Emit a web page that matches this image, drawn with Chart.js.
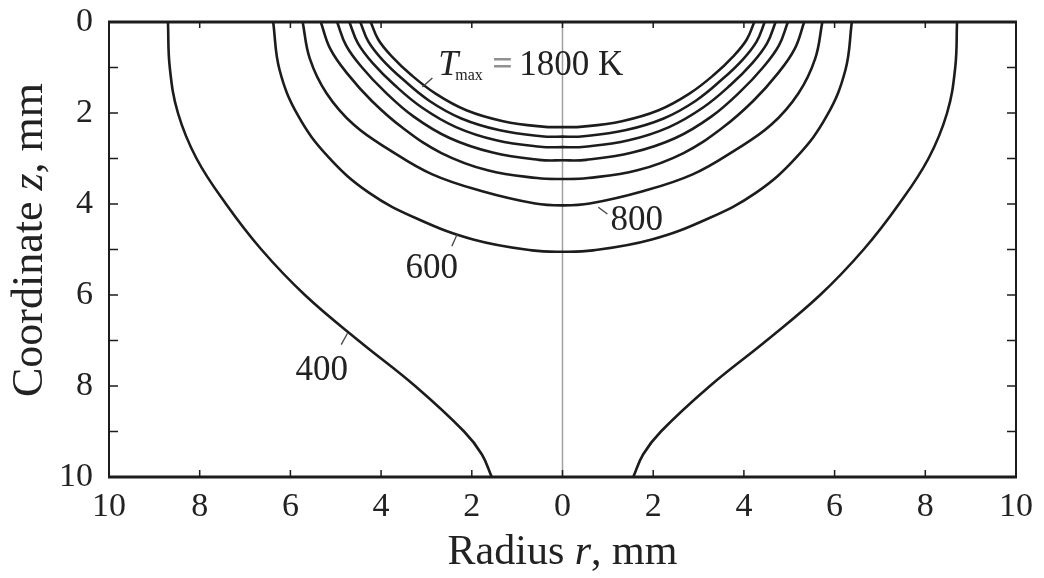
<!DOCTYPE html>
<html>
<head>
<meta charset="utf-8">
<script src="https://cdn.jsdelivr.net/npm/chart.js@4.4.1/dist/chart.umd.min.js"></script>
<style>
    html, body { margin: 0; padding: 0; background: #ffffff; }
    #wrap { width: 1044px; height: 578px; position: relative; }
</style>
</head>
<body>
<div id="wrap"><canvas id="chartIsotherms" width="1044" height="578"></canvas></div>
<script>
// isotherm levels, K
var levels = [400, 600, 800, 1000, 1200, 1400, 1600, 1800];

// axis ticks (mm)
var rTicks = [-10, -8, -6, -4, -2, 0, 2, 4, 6, 8, 10];
var zTicks = [0, 2, 4, 6, 8, 10];

// right half of each isotherm: radius r and depth z (mm)
var r400 = [8.70, 8.66, 8.48, 8.07, 7.42, 6.64, 5.68, 4.50, 3.25, 2.17, 1.78, 1.56];
var z400 = [0, 1, 2, 3, 4, 5, 6, 7, 8, 9, 9.5, 10];

var r600 = [6.38, 6.24, 5.83, 5.16, 4.27, 3.19, 1.97, 0.67, 0];
var z600 = [0, 1.05, 2.06, 2.97, 3.75, 4.33, 4.78, 5.02, 5.05];

var r800 = [5.73, 5.57, 5.20, 4.60, 3.80, 2.87, 1.77, 0.60, 0];
var z800 = [0, 0.81, 1.57, 2.26, 2.82, 3.35, 3.72, 3.99, 4.03];

var r1000 = [5.33, 5.12, 4.74, 4.21, 3.52, 2.67, 1.65, 0.56, 0];
var z1000 = [0, 0.59, 1.14, 1.73, 2.33, 2.88, 3.26, 3.43, 3.45];

var r1200 = [4.97, 4.77, 4.42, 3.93, 3.28, 2.49, 1.54, 0.52, 0];
var z1200 = [0, 0.52, 1.00, 1.52, 2.08, 2.55, 2.87, 3.03, 3.04];

var r1400 = [4.70, 4.51, 4.18, 3.71, 3.10, 2.35, 1.46, 0.49, 0];
var z1400 = [0, 0.47, 0.91, 1.38, 1.88, 2.31, 2.60, 2.74, 2.75];

var r1600 = [4.46, 4.28, 3.97, 3.52, 2.94, 2.23, 1.38, 0.47, 0];
var z1600 = [0, 0.43, 0.83, 1.26, 1.73, 2.12, 2.38, 2.51, 2.52];

var r1800 = [4.23, 4.06, 3.76, 3.34, 2.79, 2.12, 1.31, 0.44, 0];
var z1800 = [0, 0.39, 0.76, 1.16, 1.58, 1.94, 2.18, 2.30, 2.31];

var serif = '"Liberation Serif", "Times New Roman", serif';
var ink = '#1c1c1c';

// closed bowl: left half from the surface down to the axis, then back up on the right
function bowl(rs, zs) {
    var pts = [];
    for (var i = 0; i < rs.length; i++) pts.push({ x: -rs[i], y: zs[i] });
    for (var j = rs.length - 2; j >= 0; j--) pts.push({ x: rs[j], y: zs[j] });
    return pts;
}
function branch(rs, zs, sign) {
    var pts = [];
    for (var i = 0; i < rs.length; i++) pts.push({ x: sign * rs[i], y: zs[i] });
    return pts;
}
function line(label, pts) {
    return {
        label: label,
        data: pts,
        borderColor: ink,
        borderWidth: 2.6,
        pointRadius: 0,
        tension: 0.4,
        fill: false
    };
}

var datasets = [
    line(levels[0] + ' K left', branch(r400, z400, -1)),
    line(levels[0] + ' K right', branch(r400, z400, 1)),
    line(levels[1] + ' K', bowl(r600, z600)),
    line(levels[2] + ' K', bowl(r800, z800)),
    line(levels[3] + ' K', bowl(r1000, z1000)),
    line(levels[4] + ' K', bowl(r1200, z1200)),
    line(levels[5] + ' K', bowl(r1400, z1400)),
    line(levels[6] + ' K', bowl(r1600, z1600)),
    line(levels[7] + ' K', bowl(r1800, z1800))
];

// frame, inward ticks and the r = 0 axis
var framePlugin = {
    id: 'frame',
    beforeDatasetsDraw: function (chart) {
        var ctx = chart.ctx, a = chart.chartArea, x = chart.scales.x;
        ctx.save();
        ctx.strokeStyle = '#a0a0a0';
        ctx.lineWidth = 1.5;
        ctx.beginPath();
        ctx.moveTo(x.getPixelForValue(0), a.top);
        ctx.lineTo(x.getPixelForValue(0), a.bottom);
        ctx.stroke();
        ctx.restore();
    },
    afterDatasetsDraw: function (chart) {
        var ctx = chart.ctx, a = chart.chartArea, x = chart.scales.x, y = chart.scales.y;
        ctx.save();
        ctx.strokeStyle = ink;
        ctx.lineWidth = 2;
        ctx.beginPath();
        ctx.moveTo(a.left, a.top); ctx.lineTo(a.left, a.bottom);
        ctx.moveTo(a.right, a.top); ctx.lineTo(a.right, a.bottom);
        ctx.stroke();
        ctx.lineWidth = 3;
        ctx.beginPath();
        ctx.moveTo(a.left - 1, a.top); ctx.lineTo(a.right + 1, a.top);
        ctx.moveTo(a.left - 1, a.bottom); ctx.lineTo(a.right + 1, a.bottom);
        ctx.stroke();

        ctx.lineWidth = 1.5;
        ctx.beginPath();
        rTicks.forEach(function (v) {
            if (v <= -10 || v >= 10) return;
            var px = x.getPixelForValue(v);
            ctx.moveTo(px, a.bottom); ctx.lineTo(px, a.bottom - 7);
            ctx.moveTo(px, a.top); ctx.lineTo(px, a.top + 6);
        });
        for (var z = 1; z < 10; z++) {
            var py = y.getPixelForValue(z);
            ctx.moveTo(a.left, py); ctx.lineTo(a.left + 9, py);
            ctx.moveTo(a.right, py); ctx.lineTo(a.right - 9, py);
        }
        ctx.stroke();
        ctx.restore();
    }
};

// isotherm labels, leaders and axis titles (with italic symbols)
var labelPlugin = {
    id: 'labels',
    afterDraw: function (chart) {
        var ctx = chart.ctx, a = chart.chartArea, x = chart.scales.x, y = chart.scales.y;
        function px(v) { return x.getPixelForValue(v); }
        function py(v) { return y.getPixelForValue(v); }
        function leader(r1, z1, r2, z2) {
            ctx.beginPath();
            ctx.moveTo(px(r1), py(z1));
            ctx.lineTo(px(r2), py(z2));
            ctx.stroke();
        }
        function mixed(parts, sx, sy, size) {
            var cx = sx;
            parts.forEach(function (p) {
                ctx.font = (p[1] ? 'italic ' : '') + size + 'px ' + serif;
                ctx.fillText(p[0], cx, sy);
                cx += ctx.measureText(p[0]).width;
            });
        }
        function width(parts, size) {
            var w = 0;
            parts.forEach(function (p) {
                ctx.font = (p[1] ? 'italic ' : '') + size + 'px ' + serif;
                w += ctx.measureText(p[0]).width;
            });
            return w;
        }
        ctx.save();
        ctx.fillStyle = '#222';
        ctx.strokeStyle = '#444';
        ctx.lineWidth = 1.3;
        ctx.textBaseline = 'alphabetic';
        ctx.textAlign = 'left';

        // T_max = 1800 K
        var bx = px(-2.74), by = py(1.16);
        ctx.font = 'italic 36px ' + serif;
        ctx.fillText('T', bx, by);
        ctx.font = '16px ' + serif;
        ctx.fillText('max', bx + 17, by + 5);
        ctx.fillStyle = '#909090';
        ctx.font = 'bold 36px ' + serif;
        ctx.fillText('=', bx + 54, by);
        ctx.fillStyle = '#222';
        ctx.font = '35px ' + serif;
        ctx.fillText('1800 K', bx + 81, by);
        leader(-3.09, 1.43, -2.87, 1.23);

        ctx.font = '35px ' + serif;
        ctx.fillText(String(levels[2]), px(1.06), py(4.57));
        leader(0.79, 4.07, 0.99, 4.22);

        ctx.fillText(String(levels[1]), px(-3.46), py(5.63));
        leader(-2.32, 4.66, -2.44, 4.93);

        ctx.fillText(String(levels[0]), px(-5.89), py(7.87));
        leader(-4.74, 6.84, -4.88, 7.09);

        // axis titles
        ctx.fillStyle = '#222';
        var xt = [['Radius ', false], ['r', true], [', mm', false]];
        mixed(xt, (a.left + a.right) / 2 - width(xt, 42) / 2, 564, 42);

        var yt = [['Coordinate ', false], ['z', true], [', mm', false]];
        ctx.translate(42, 240);
        ctx.rotate(-Math.PI / 2);
        mixed(yt, -width(yt, 44) / 2, 0, 44);
        ctx.restore();
    }
};

var ctx = document.getElementById('chartIsotherms').getContext('2d');
var chartIsotherms = new Chart(ctx, {
    type: 'line',
    data: { datasets: datasets },
    options: {
        responsive: false,
        animation: false,
        layout: { autoPadding: false, padding: { top: 22, right: 28, left: 0, bottom: 0 } },
        elements: { line: { tension: 0.4 } },
        plugins: {
            legend: { display: false },
            tooltip: { enabled: false }
        },
        scales: {
            x: {
                type: 'linear',
                min: -10,
                max: 10,
                afterFit: function (scale) { scale.height = 101; },
                afterBuildTicks: function (scale) {
                    scale.ticks = rTicks.map(function (v) { return { value: v }; });
                },
                ticks: {
                    callback: function (v) { return Math.abs(v); },
                    font: { family: serif, size: 34 },
                    color: '#222',
                    padding: 10,
                    maxRotation: 0
                },
                grid: { display: false, drawTicks: false },
                border: { display: false }
            },
            y: {
                type: 'linear',
                reverse: true,
                min: 0,
                max: 10,
                afterFit: function (scale) {
                    scale.width = 109;
                    scale.paddingTop = 0;
                    scale.paddingBottom = 0;
                },
                afterBuildTicks: function (scale) {
                    scale.ticks = zTicks.map(function (v) { return { value: v }; });
                },
                ticks: {
                    font: { family: serif, size: 34, lineHeight: 0.3 },
                    color: '#222',
                    padding: 16
                },
                grid: { display: false, drawTicks: false },
                border: { display: false }
            }
        }
    },
    plugins: [framePlugin, labelPlugin]
});
</script>
</body>
</html>
